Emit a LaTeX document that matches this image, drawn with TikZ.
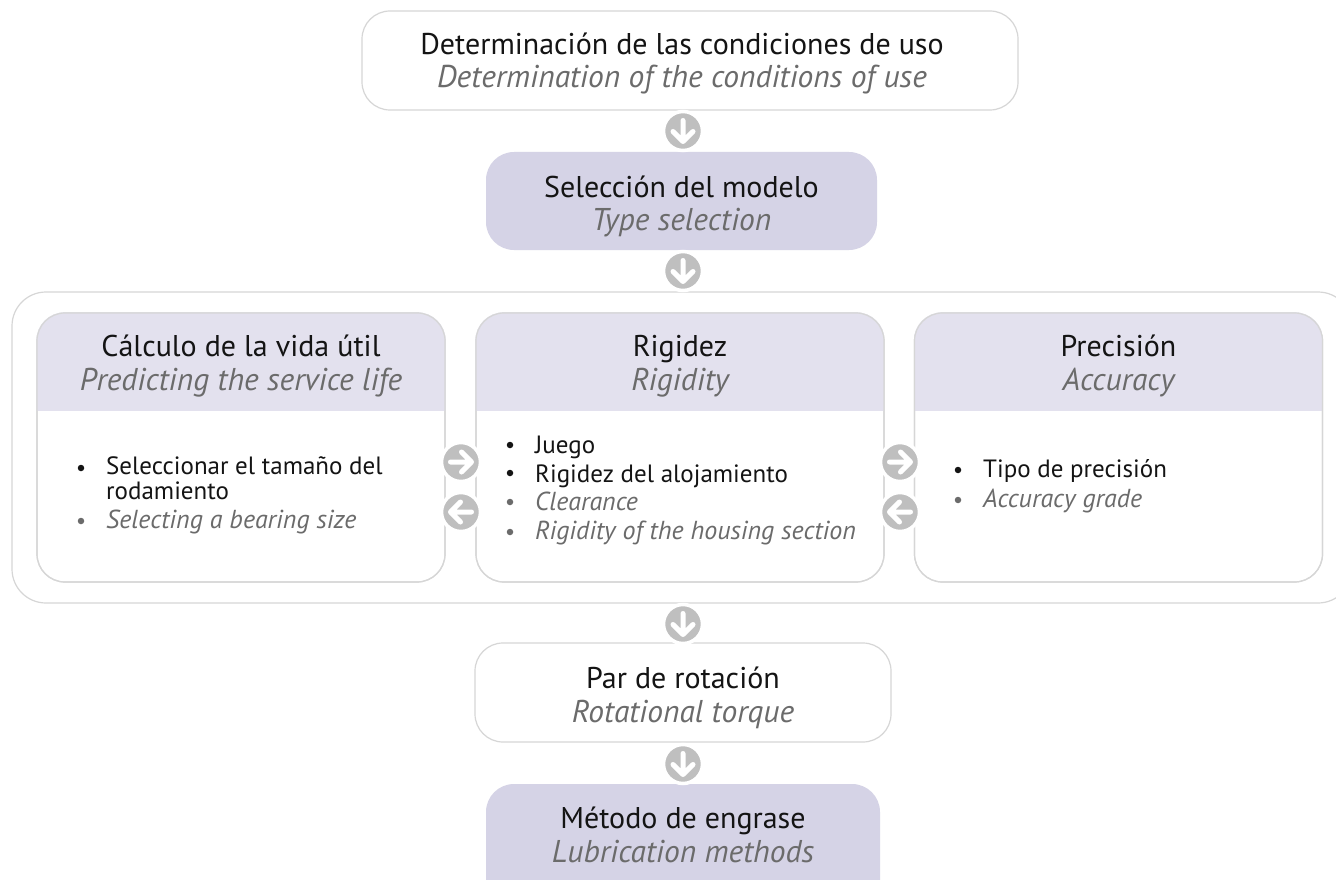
\documentclass[tikz,border=0pt]{standalone}
\usepackage{fontspec}
\setmainfont{PT Sans}
\usetikzlibrary{calc}
\definecolor{lav}{HTML}{D5D3E6}
\definecolor{hdr}{HTML}{E3E1EE}
\definecolor{bord}{HTML}{D6D6D6}
\definecolor{circ}{HTML}{BFBFBF}
\definecolor{engr}{HTML}{6B6B6B}
\definecolor{txt}{HTML}{141414}
\tikzset{
  box/.style={draw=bord, line width=1.2pt, rounded corners=28pt, inner sep=0pt},
  filled/.style={box, draw=none, fill=lav},
  panel/.style={draw=bord, line width=1.2pt, rounded corners=28pt, inner sep=0pt,
    minimum width=408pt, minimum height=269pt},
  l1/.style={anchor=base, font=\fontsize{30}{30}\selectfont, text=txt, inner sep=0pt},
  l2/.style={anchor=base, font=\fontsize{31.5}{31.5}\selectfont\itshape, text=engr, inner sep=0pt},
  btxt/.style={anchor=base west, font=\fontsize{25}{25}\selectfont, text=txt, inner sep=0pt},
  itxt/.style={anchor=base west, font=\fontsize{26}{26}\selectfont\itshape, text=engr, inner sep=0pt},
  dot/.style={circle, fill=txt, minimum size=6.5pt, inner sep=0pt},
  gdot/.style={dot, fill=engr},
  badge/.style={circle, fill=circ, draw=white, line width=3.5pt, minimum size=39pt, inner sep=0pt},
  glyph/.style={white, line width=5pt, line cap=round, line join=round},
  downbadge/.style={badge, path picture={\draw[glyph, shift={(path picture bounding box.center)}]
      (0,-10.5) -- (0,10) (-10,0.5) -- (0,10.5) -- (10,0.5);}},
  rightbadge/.style={badge, path picture={\draw[glyph, shift={(path picture bounding box.center)}]
      (-10.5,0) -- (10,0) (0.5,-10) -- (10.5,0) -- (0.5,10);}},
  leftbadge/.style={badge, path picture={\draw[glyph, shift={(path picture bounding box.center)}]
      (10.5,0) -- (-10,0) (-0.5,-10) -- (-10.5,0) -- (-0.5,10);}},
}
\begin{document}
\begin{tikzpicture}[x=1pt, y=-1pt]
\clip (0,0) rectangle (1336,880);
\fill[white] (0,0) rectangle (1336,880);

% top box
\node[box, fill=white, minimum width=656pt, minimum height=99pt] (use) at (690,60.5) {};
\node[l1] (use1) at (682,55) {Determinación de las condiciones de uso};
\node[l2] (use2) at (682,88) {Determination of the conditions of use};
% type selection
\node[filled, minimum width=391pt, minimum height=98pt] (type) at (681.5,201) {};
\node[l1] (type1) at (681.5,197) {Selección del modelo};
\node[l2] (type2) at (681.5,230) {Type selection};

% outer group box
\node[draw=bord, line width=1.2pt, rounded corners=34pt, inner sep=0pt,
  minimum width=1340pt, minimum height=311pt] (group) at (682,447.5) {};

% panels
\foreach \n/\cx in {p1/241, p2/680, p3/1118.5}{
  \node[panel, fill=white] (\n) at (\cx,447.5) {};
  \begin{scope}
    \clip[rounded corners=28pt] (\n.north west) rectangle (\n.south east);
    \fill[hdr] (\n.north west) rectangle ($(\n.north east)+(0,99)$);
  \end{scope}
  \node[panel] at (\n) {};
}
\node[l1] (h1a) at (241,356) {Cálculo de la vida útil};
\node[l2] (h1b) at (241,390) {Predicting the service life};
\node[l1] (h2a) at (680,356) {Rigidez};
\node[l2] (h2b) at (680,390) {Rigidity};
\node[l1] (h3a) at (1118.5,356) {Precisión};
\node[l2] (h3b) at (1118.5,390) {Accuracy};

% left panel bullets
\node[dot] (d11) at (81,468) {};
\node[btxt, align=left] (t11) at (106,499) {Seleccionar el tamaño del\\rodamiento};
\node[gdot] (d12) at (81,521) {};
\node[itxt] (t12) at (106,528) {Selecting a bearing size};

% middle panel bullets
\node[dot] (d21) at (510,445) {};
\node[btxt] (t21) at (535,453) {Juego};
\node[dot] (d22) at (510,473) {};
\node[btxt] (t22) at (535,482) {Rigidez del alojamiento};
\node[gdot] (d23) at (510,502) {};
\node[itxt] (t23) at (535,510) {Clearance};
\node[gdot] (d24) at (510,532) {};
\node[itxt] (t24) at (535,539) {Rigidity of the housing section};

% right panel bullets
\node[dot] (d31) at (958,470) {};
\node[btxt] (t31) at (983,477) {Tipo de precisión};
\node[gdot] (d32) at (958,500) {};
\node[itxt] (t32) at (983,507) {Accuracy grade};

% torque
\node[box, fill=white, minimum width=416pt, minimum height=99pt] (torque) at (683,692.5) {};
\node[l1] (tq1) at (683,688) {Par de rotación};
\node[l2] (tq2) at (683,722) {Rotational torque};
% lubrication
\node[filled, minimum width=394pt, minimum height=140pt] (lube) at (683,854) {};
\node[l1] (lb1) at (683,828) {Método de engrase};
\node[l2] (lb2) at (683,862) {Lubrication methods};

% arrow badges
\node[downbadge] (a1) at (683,131) {};
\node[downbadge] (a2) at (683,271) {};
\node[downbadge] (a3) at (683,624) {};
\node[downbadge] (a4) at (683,764) {};
\node[rightbadge] (r1) at (461,462) {};
\node[leftbadge] (l1) at (461,512) {};
\node[rightbadge] (r2) at (900,462) {};
\node[leftbadge] (l2) at (900,512) {};
\end{tikzpicture}
\end{document}
